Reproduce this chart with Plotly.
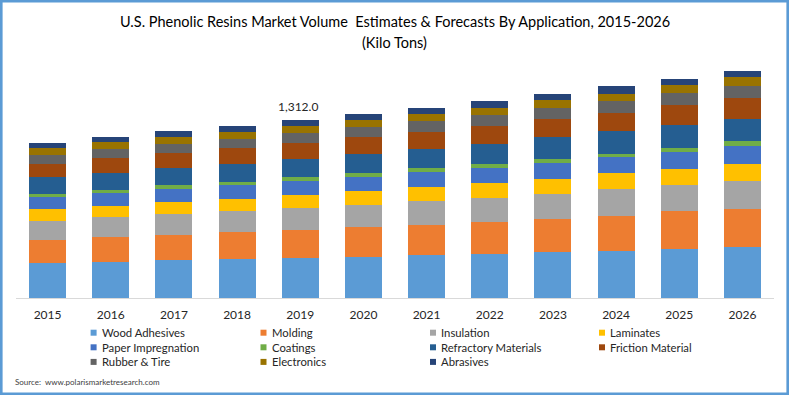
import plotly.graph_objects as go

years = ["2015", "2016", "2017", "2018", "2019", "2020", "2021", "2022", "2023", "2024", "2025", "2026"]

wood_adhesives      = [258, 263, 278, 288, 293, 303, 318, 322, 342, 347, 362, 377]
molding             = [167, 187, 187, 197, 207, 222, 222, 236, 241, 261, 276, 281]
insulation          = [143, 148, 153, 158, 162, 162, 177, 177, 185, 192, 197, 207]
laminates           = [86, 79, 89, 89, 98, 103, 103, 111, 111, 118, 118, 126]
paper_impregnation  = [89, 98, 98, 103, 103, 103, 108, 111, 118, 118, 126, 126]
coatings            = [22, 20, 30, 20, 30, 30, 30, 30, 30, 27, 30, 39]
refractory          = [128, 128, 123, 133, 133, 138, 143, 148, 158, 165, 165, 167]
friction            = [94, 108, 113, 118, 118, 128, 123, 133, 133, 138, 148, 148]
rubber_tire         = [66, 66, 64, 69, 74, 71, 81, 81, 79, 84, 86, 89]
electronics         = [52, 52, 52, 49, 49, 52, 52, 52, 59, 57, 59, 66]
abrasives           = [37, 37, 44, 44, 45, 44, 44, 52, 44, 52, 44, 44]

series_names = ["Wood Adhesives", "Molding", "Insulation", "Laminates",
                "Paper Impregnation", "Coatings", "Refractory Materials", "Friction Material",
                "Rubber & Tire", "Electronics", "Abrasives"]
series_values = [wood_adhesives, molding, insulation, laminates, paper_impregnation,
                 coatings, refractory, friction, rubber_tire, electronics, abrasives]
series_colors = ["#5B9BD5", "#ED7D31", "#A5A5A5", "#FFC000", "#4472C4", "#70AD47",
                 "#255E91", "#9E480E", "#636363", "#997300", "#264478"]

label_year = "2019"
label_text = "1,312.0"

title_line1 = "U.S. Phenolic Resins Market Volume\u00a0 Estimates & Forecasts By Application, 2015-2026"
title_line2 = "(Kilo Tons)"
source_text = "Source:\u00a0 www.polarismarketresearch.com"

W, H = 789, 395
L, R, T, B = 16, 15, 60, 97
PW = W - L - R
PH = H - T - B
FONT = "Lato, 'Liberation Sans', sans-serif"
TXT = "#262626"


def px2x(px):
    return (px - L) / PW


def py2y(py):
    return (H - B - py) / PH


fig = go.Figure()
for name, vals, col in zip(series_names, series_values, series_colors):
    fig.add_trace(go.Bar(x=years, y=vals, name=name, marker=dict(color=col, line=dict(width=0)),
                         showlegend=False))

totals = [sum(v[i] for v in series_values) for i in range(len(years))]
ymax = 1312 / 178.0 * PH

annotations = []
shapes = []

# data label
li = years.index(label_year)
annotations.append(dict(x=li, y=totals[li], xref="x", yref="y", text=label_text,
                        showarrow=False, yanchor="bottom", yshift=4, xshift=-2,
                        font=dict(family=FONT, size=12, color=TXT)))

# titles
annotations.append(dict(x=px2x(394.5), y=py2y(22), xref="paper", yref="paper", text=title_line1,
                        showarrow=False, xanchor="center", yanchor="middle",
                        font=dict(family=FONT, size=14.5, color="#000000")))
annotations.append(dict(x=px2x(394.5), y=py2y(42), xref="paper", yref="paper", text=title_line2,
                        showarrow=False, xanchor="center", yanchor="middle",
                        font=dict(family=FONT, size=14.5, color="#000000")))

# legend (custom)
col_x = [93.6, 263.5, 433.0, 602.0]
row_y = [332.7, 347.3, 361.9]
for i, (name, col) in enumerate(zip(series_names, series_colors)):
    cx = col_x[i % 4]
    cy = row_y[i // 4]
    shapes.append(dict(type="rect", xref="paper", yref="paper",
                       x0=px2x(cx - 3), x1=px2x(cx + 3), y0=py2y(cy + 3), y1=py2y(cy - 3),
                       fillcolor=col, line=dict(width=0)))
    annotations.append(dict(x=px2x(cx + 6), y=py2y(cy), xref="paper", yref="paper", text=name,
                            showarrow=False, xanchor="left", yanchor="middle",
                            font=dict(family=FONT, size=11.3, color=TXT)))

# source
annotations.append(dict(x=px2x(12.5), y=py2y(381.7), xref="paper", yref="paper", text=source_text,
                        showarrow=False, xanchor="left", yanchor="middle",
                        font=dict(family=FONT, size=8, color="#404040")))

# outer border
shapes.append(dict(type="rect", xref="paper", yref="paper",
                   x0=px2x(1.3), x1=px2x(787.7), y0=py2y(393.7), y1=py2y(1.3),
                   line=dict(color="#5B9BD5", width=2.6), fillcolor="rgba(0,0,0,0)", layer="above"))

fig.update_layout(
    width=W, height=H,
    margin=dict(l=L, r=R, t=T, b=B, pad=0),
    barmode="stack",
    bargap=0.415,
    paper_bgcolor="white",
    plot_bgcolor="white",
    showlegend=False,
    annotations=annotations,
    shapes=shapes,
    xaxis=dict(type="category", range=[-0.5, len(years) - 0.5], showline=True,
               linecolor="#D9D9D9", linewidth=1,
               showgrid=False, ticks="", ticklabelstandoff=6,
               tickfont=dict(family=FONT, size=12, color=TXT), fixedrange=True),
    yaxis=dict(range=[0, ymax], visible=False, showgrid=False, zeroline=False, fixedrange=True),
)

fig.write_html("out.html",
               config={"displayModeBar": False, "staticPlot": True},
               post_script="document.body.style.margin='0';document.body.style.padding='0';"
                           "document.documentElement.style.overflow='hidden';")
